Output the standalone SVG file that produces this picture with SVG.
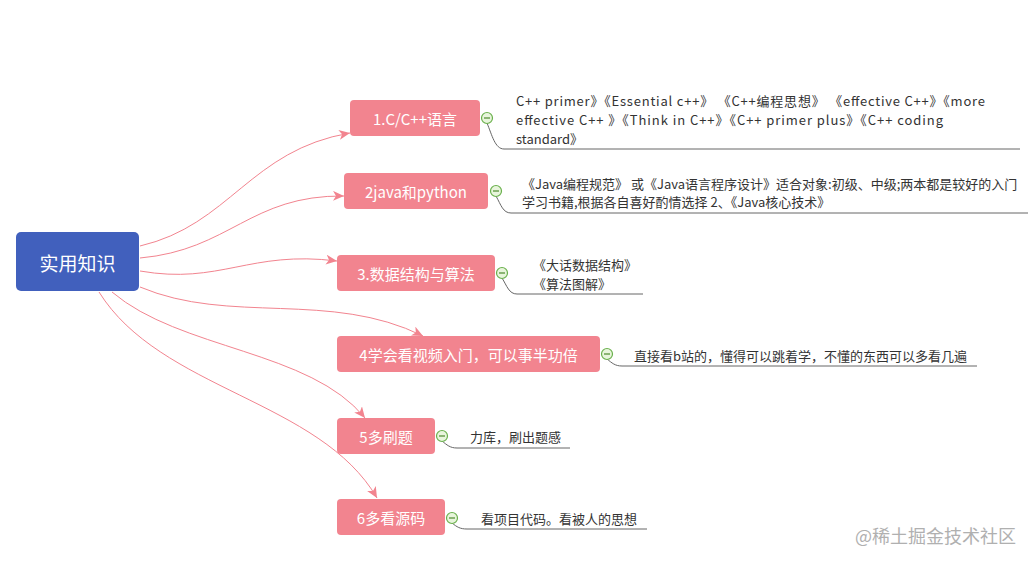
<svg xmlns="http://www.w3.org/2000/svg" width="1035" height="565" viewBox="0 0 1035 565">
<style>
.root{fill:#4160BD}
.topic{fill:#F2848F}
.rt{font-family:"Noto Sans CJK SC","Liberation Sans",sans-serif;font-size:19px;fill:#fff;text-anchor:middle;dominant-baseline:central}
.tt{font-family:"Noto Sans CJK SC","Liberation Sans",sans-serif;font-size:15px;fill:#fff;text-anchor:middle;dominant-baseline:central}
.lt{font-family:"Noto Sans CJK SC","Liberation Sans",sans-serif;font-size:13px;fill:#333;dominant-baseline:central}
.conn{fill:none;stroke:#F2848F;stroke-width:1}
.leaf{fill:none;stroke:#666;stroke-width:1}
.tog{fill:#E8F5DC;stroke:#6AB04C;stroke-width:1.2}
.togm{stroke:#4E8A2E;stroke-width:1.2}
.wm{font-family:"Noto Sans CJK SC","Liberation Sans",sans-serif;font-size:18px;fill:#B0B0B0}
</style>
<defs>
<marker id="arr" markerUnits="userSpaceOnUse" markerWidth="12" markerHeight="10" refX="11" refY="5" orient="auto">
<path d="M0,0 L11,5 L0,10 L3,5 Z" fill="#F2848F"/>
</marker>
</defs>
<rect width="1035" height="565" fill="#fff"/>
<g id="connectors">
<path class="conn" marker-end="url(#arr)" d="M140,246 C230,225 250,150 350,133"/>
<path class="conn" marker-end="url(#arr)" d="M140,258 C230,250 250,195 344,196"/>
<path class="conn" marker-end="url(#arr)" d="M140,271 C220,285 250,250 337,261"/>
<path class="conn" marker-end="url(#arr)" d="M140,287 C230,325 330,290 423,336"/>
<path class="conn" marker-end="url(#arr)" d="M112,292 C180,350 310,350 365,418"/>
<path class="conn" marker-end="url(#arr)" d="M99,292 C160,390 320,400 377,498"/>
</g>
<g id="root">
<rect class="root" x="16" y="232" width="123" height="59" rx="5"/>
<text class="rt" x="77.5" y="262">实用知识</text>
</g>
<g id="n1">
<rect class="topic" x="350" y="100" width="130" height="36" rx="4"/>
<text class="tt" x="415" y="118">1.C/C++语言</text>
<path class="leaf" d="M487,123 C492,135 495,149 504,149 L1020,149"/>
<circle class="tog" cx="487" cy="118" r="5.5"/><line class="togm" x1="484" y1="118" x2="490" y2="118"/>
<text class="lt" x="516" y="100" textLength="469" lengthAdjust="spacing">C++ primer》《Essential c++》 《C++编程思想》 《effective C++》《more</text>
<text class="lt" x="516" y="119" textLength="427" lengthAdjust="spacing">effective C++ 》《Think in C++》《C++ primer plus》《C++ coding</text>
<text class="lt" x="516" y="138">standard》</text>
</g>
<g id="n2">
<rect class="topic" x="344" y="173" width="144" height="36" rx="4"/>
<text class="tt" x="416" y="191">2java和python</text>
<path class="leaf" d="M496,196 C501,205 503,213 511,213 L1028,213"/>
<circle class="tog" cx="496" cy="191" r="5.5"/><line class="togm" x1="493" y1="191" x2="499" y2="191"/>
<text class="lt" x="522" y="183">《Java编程规范》 或《Java语言程序设计》适合对象:初级、中级;两本都是较好的入门</text>
<text class="lt" x="522" y="201">学习书籍,根据各自喜好酌情选择 2、《Java核心技术》</text>
</g>
<g id="n3">
<rect class="topic" x="337" y="255" width="158" height="36" rx="4"/>
<text class="tt" x="416" y="273">3.数据结构与算法</text>
<path class="leaf" d="M502,278 C507,286 509,294 517,294 L643,294"/>
<circle class="tog" cx="502" cy="273" r="5.5"/><line class="togm" x1="499" y1="273" x2="505" y2="273"/>
<text class="lt" x="533" y="264">《大话数据结构》</text>
<text class="lt" x="533" y="283">《算法图解》</text>
</g>
<g id="n4">
<rect class="topic" x="337" y="336" width="263" height="36" rx="4"/>
<text class="tt" x="468.5" y="354">4学会看视频入门，可以事半功倍</text>
<path class="leaf" d="M607,359 C612,363 615,366 622,366 L977,366"/>
<circle class="tog" cx="607" cy="354" r="5.5"/><line class="togm" x1="604" y1="354" x2="610" y2="354"/>
<text class="lt" x="634" y="355">直接看b站的，懂得可以跳着学，不懂的东西可以多看几遍</text>
</g>
<g id="n5">
<rect class="topic" x="337" y="418" width="98" height="36" rx="4"/>
<text class="tt" x="386" y="436">5多刷题</text>
<path class="leaf" d="M442,441 C447,445 450,448 457,448 L570,448"/>
<circle class="tog" cx="442" cy="436" r="5.5"/><line class="togm" x1="439" y1="436" x2="445" y2="436"/>
<text class="lt" x="470" y="436">力库，刷出题感</text>
</g>
<g id="n6">
<rect class="topic" x="337" y="499" width="108" height="36" rx="4"/>
<text class="tt" x="391" y="517">6多看源码</text>
<path class="leaf" d="M452,523 C457,527 460,529 467,529 L647,529"/>
<circle class="tog" cx="452" cy="518" r="5.5"/><line class="togm" x1="449" y1="518" x2="455" y2="518"/>
<text class="lt" x="481" y="518">看项目代码。看被人的思想</text>
</g>
<text class="wm" x="855" y="543">@稀土掘金技术社区</text>
</svg>
